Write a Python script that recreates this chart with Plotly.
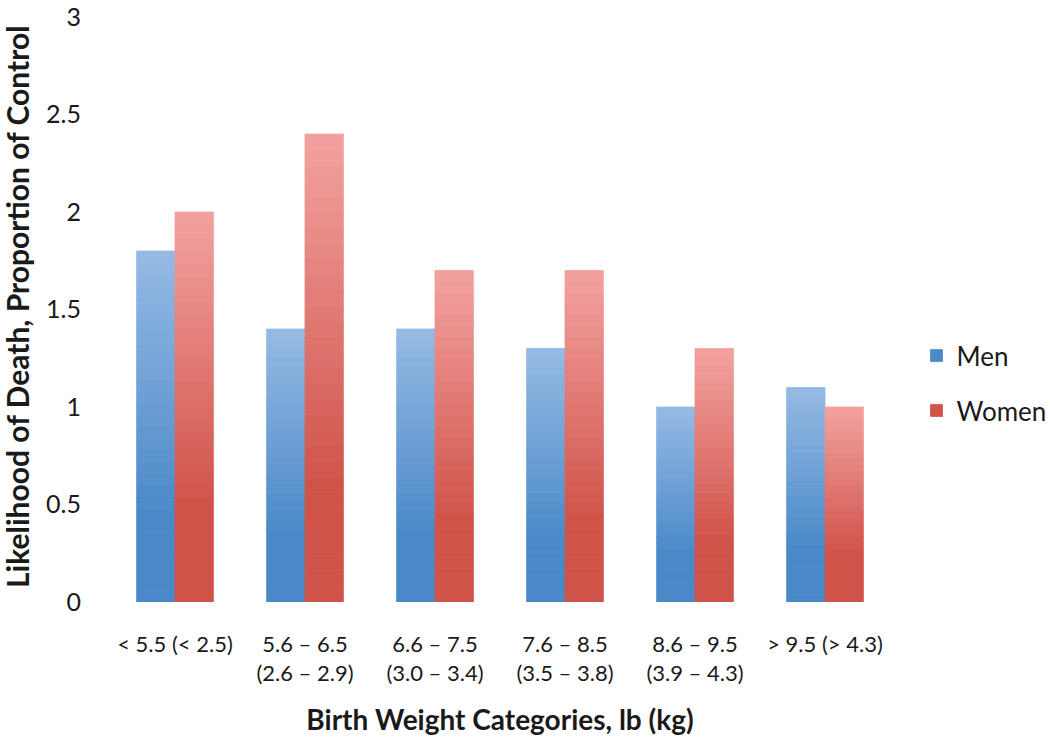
import numpy as np
import plotly.graph_objects as go

categories = ["< 5.5 (< 2.5)", "5.6 – 6.5<br>(2.6 – 2.9)", "6.6 – 7.5<br>(3.0 – 3.4)",
              "7.6 – 8.5<br>(3.5 – 3.8)", "8.6 – 9.5<br>(3.9 – 4.3)", "> 9.5 (> 4.3)"]
men = [1.8, 1.4, 1.4, 1.3, 1.0, 1.1]
women = [2.0, 2.4, 1.7, 1.7, 1.3, 1.0]
y_ticks = [0, 0.5, 1, 1.5, 2, 2.5, 3]
y_ticktext = ["0", "0.5", "1", "1.5", "2", "2.5", "3"]

series = [
    ("Men", men, (74, 137, 200), (150, 186, 228)),
    ("Women", women, (208, 83, 74), (243, 162, 160)),
]

N = 30
FONT = "Lato, 'Open Sans', sans-serif"

fig = go.Figure()
for name, vals, dark, light in series:
    vals = np.array(vals, dtype=float)
    for i in range(N):
        f = (i + 0.5) / N
        t = max(0.0, (f - 0.25) / 0.75)
        c = "rgb(%d,%d,%d)" % tuple(int(round(dark[k] + (light[k] - dark[k]) * t)) for k in range(3))
        fig.add_trace(go.Bar(
            x=categories,
            y=vals / N,
            base=vals * i / N,
            name=name,
            offsetgroup=name,
            legendgroup=name,
            showlegend=(i == 0),
            marker=dict(color=c, line=dict(width=0.8, color=c)),
            hovertemplate=name + ": %{customdata}<extra></extra>",
            customdata=vals,
        ))

fig.update_layout(
    width=1050, height=750,
    margin=dict(l=110, r=160, t=17, b=148, autoexpand=False),
    paper_bgcolor="white", plot_bgcolor="white",
    barmode="group", bargap=0.41, bargroupgap=0,
    font=dict(family=FONT, color="#1a1a1a"),
    showlegend=True,
    legend=dict(x=1.034, y=0.374, xanchor="left", yanchor="middle",
                font=dict(size=26, family=FONT, color="#1a1a1a"),
                tracegroupgap=18, itemwidth=30),
    xaxis=dict(showline=False, showgrid=False, zeroline=False, ticks="",
               automargin=False,
               tickfont=dict(size=22, family=FONT, color="#1a1a1a"),
               title=dict(text="<b>Birth Weight Categories, lb (kg)</b>",
                          font=dict(size=28, family=FONT, color="#1a1a1a"),
                          standoff=25),
               ticklabelstandoff=27),
    yaxis=dict(range=[0, 3.0001], tickvals=y_ticks, ticktext=y_ticktext,
               showline=False, showgrid=False, automargin=False,
               zeroline=False, ticks="", ticklabeloverflow="allow",
               tickfont=dict(size=25, family=FONT, color="#1a1a1a"),
               ticklabelstandoff=28),
    annotations=[dict(text="<b>Likelihood of Death, Proportion of Control</b>",
                      xref="paper", yref="paper", x=-0.12, y=0.505,
                      xanchor="center", yanchor="middle", textangle=-90,
                      showarrow=False,
                      font=dict(size=30, family=FONT, color="#1a1a1a"))],
)

fig.write_html("out.html", config={"displayModeBar": False},
               post_script="document.body.style.margin='0';document.body.style.overflow='hidden';")
